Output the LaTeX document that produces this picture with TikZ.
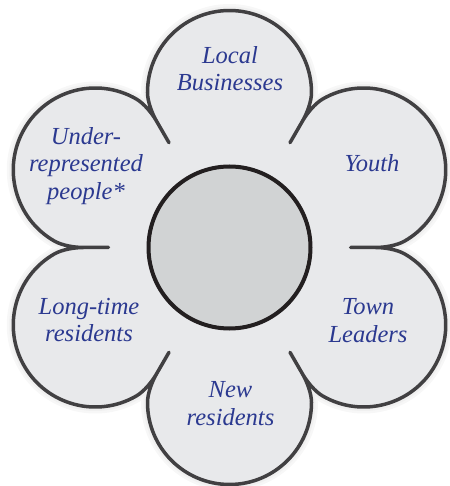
\documentclass[tikz,border=0pt]{standalone}
\usepackage{fontspec}
\setmainfont{Liberation Serif}
\usepackage{tikz}
\usetikzlibrary{positioning}

\definecolor{petalfill}{RGB}{232,233,235}
\definecolor{petalline}{RGB}{65,64,66}
\definecolor{hubfill}{RGB}{209,211,212}
\definecolor{hubline}{RGB}{35,31,32}
\definecolor{lblblue}{RGB}{43,57,144}

\begin{document}
\begin{tikzpicture}[x=1pt,y=1pt,
    petal/.style={draw=petalline,fill=petalfill,line width=3.5pt,line join=round,line cap=round,
        preaction={draw=black!3,line width=13pt},
        preaction={draw=black!6,line width=8pt}},
    hub/.style={circle,draw=hubline,fill=hubfill,line width=4pt,minimum size=162pt,inner sep=0pt},
    lbl/.style={align=center,inner sep=0pt,text=lblblue,font=\fontsize{24.5}{27.5}\selectfont\itshape}]
    \useasboundingbox (-229.5,-238.5) rectangle (219.5,247.5);

    %Shape: Flower outline
    \draw[petal] (-120:146)
        % bottom petal
        .. controls (-120:155) and (-119.32:167.45) .. (-117.88:175.35)
        arc[start angle=-180,end angle=0,radius=82]
        .. controls (-60.68:167.45) and (-60:155) .. (-60:146) -- (-60:121) -- (-60:146)
        % lower right petal
        .. controls (-60:155) and (-59.32:167.45) .. (-57.88:175.35)
        arc[start angle=-120,end angle=60,radius=82]
        .. controls (-0.68:167.45) and (0:155) .. (0:146) -- (0:121) -- (0:146)
        % upper right petal
        .. controls (0:155) and (0.68:167.45) .. (2.12:175.35)
        arc[start angle=-60,end angle=120,radius=82]
        .. controls (59.32:167.45) and (60:155) .. (60:146) -- (60:121) -- (60:146)
        % top petal
        .. controls (60:155) and (60.68:167.45) .. (62.12:175.35)
        arc[start angle=0,end angle=180,radius=82]
        .. controls (119.32:167.45) and (120:155) .. (120:146) -- (120:121) -- (120:146)
        % upper left petal
        .. controls (120:155) and (120.68:167.45) .. (122.12:175.35)
        arc[start angle=60,end angle=240,radius=82]
        .. controls (179.32:167.45) and (180:155) .. (180:146) -- (180:121) -- (180:146)
        % lower left petal
        .. controls (180:155) and (180.68:167.45) .. (182.12:175.35)
        arc[start angle=120,end angle=300,radius=82]
        .. controls (239.32:167.45) and (240:155) .. (240:146) -- (240:121) -- cycle ;

    %Shape: Circle
    \node[hub] (core) at (0,0) {};

    % Text Node
    \node[lbl] (local) at (0.5,178.8) {Local\\Businesses};
    % Text Node
    \node[lbl] (youth) at (142.5,84) {Youth};
    % Text Node
    \node[lbl] (under) at (-143.5,81.5) {Under-\\represented\\people*};
    % Text Node
    \node[lbl] (longtime) at (-140.5,-72.5) {Long-time\\residents};
    % Text Node
    \node[lbl] (town) at (138.5,-73.2) {Town\\Leaders};
    % Text Node
    \node[lbl] (new) at (1,-156.2) {New\\residents};

\end{tikzpicture}
\end{document}
